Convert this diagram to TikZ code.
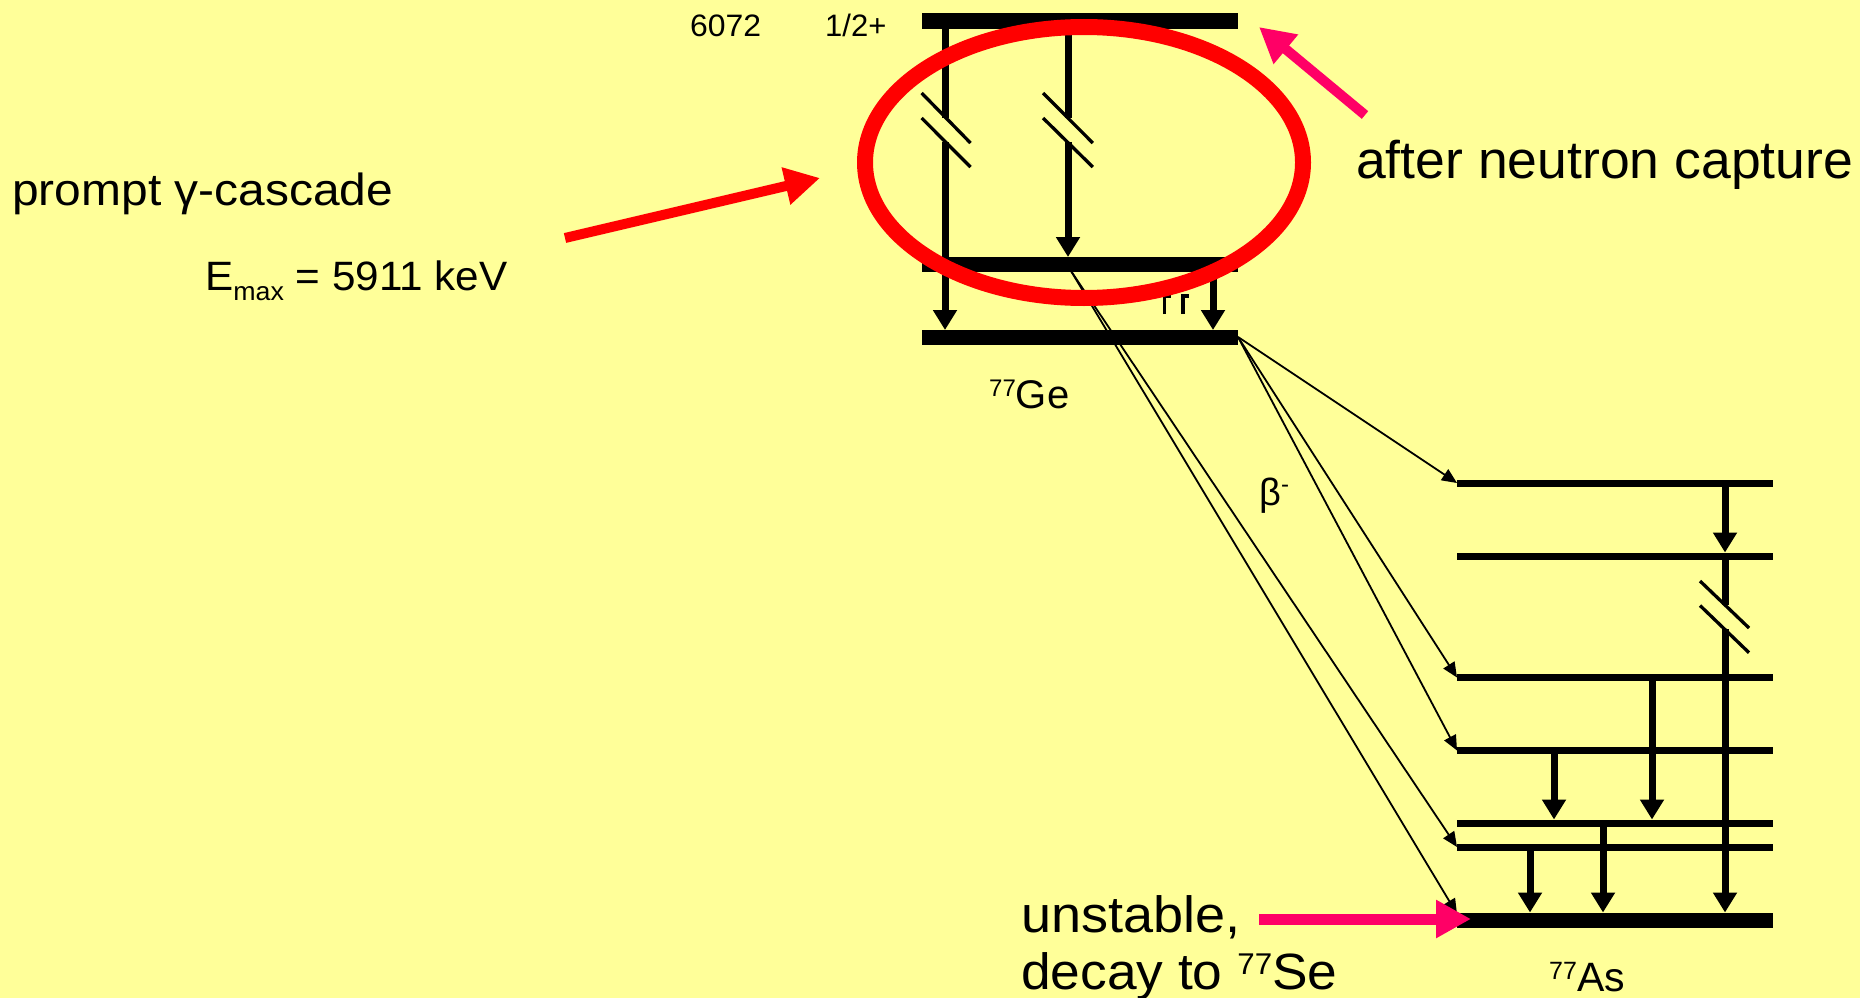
\documentclass[tikz,border=0pt]{standalone}
\usepackage{fontspec}
\setmainfont{Liberation Sans}
\usetikzlibrary{arrows.meta}
\definecolor{bgyellow}{HTML}{FFFF99}
\definecolor{pinkarrow}{HTML}{FF0066}
\definecolor{redmark}{HTML}{FF0000}
\newcommand{\fsz}[1]{\fontsize{#1}{#1}\selectfont}
\begin{document}
\begin{tikzpicture}[x=1pt,y=-1pt,
  gebar/.style={line width=15pt},
  asbar/.style={line width=7pt},
  asground/.style={line width=15pt},
  gam/.style={line width=7pt,-{Triangle[length=20pt,width=23pt]}},
  gamline/.style={line width=7pt},
  brk/.style={line width=3.3pt},
  betaarr/.style={line width=1.8pt,-{Triangle[length=15pt,width=13pt]}},
  bigarrow/.style={line width=10pt,-{Triangle[length=35pt,width=36pt]}},
  lbl/.style={inner sep=0pt,anchor=base west},
]
\useasboundingbox (0,0) rectangle (1860,998);
\fill[bgyellow] (0,0) rectangle (1860,998);

% ---- 77Ge levels
\coordinate (geTL) at (922,21);    \coordinate (geTR) at (1238,21);
\coordinate (geML) at (922,264.5); \coordinate (geMR) at (1238,264.5);
\coordinate (geBL) at (922,337.5); \coordinate (geBR) at (1238,337.5);
\draw[gebar,line width=16pt] (geTL) -- (geTR);
\draw[gebar] (geML) -- (geMR);
\draw[gebar] (geBL) -- (geBR);

% Ge gamma transitions
\coordinate (g1a) at (945,29);   \coordinate (g1b) at (945,117.5);
\coordinate (g1c) at (945,142);  \coordinate (g1d) at (945,330);
\draw[gamline] (g1a) -- (g1b);
\draw[gam] (g1c) -- (g1d);
\coordinate (k1a) at (921.6,93);  \coordinate (k1b) at (970.5,143);
\coordinate (k1c) at (921.6,118); \coordinate (k1d) at (970.5,167);
\draw[brk] (k1a) -- (k1b);
\draw[brk] (k1c) -- (k1d);

\coordinate (g2a) at (1068,29);   \coordinate (g2b) at (1068,117.5);
\coordinate (g2c) at (1068,142);  \coordinate (g2d) at (1068,257);
\draw[gamline] (g2a) -- (g2b);
\draw[gam] (g2c) -- (g2d);
\coordinate (k2a) at (1043,93);  \coordinate (k2b) at (1092.8,143);
\coordinate (k2c) at (1043,118); \coordinate (k2d) at (1092.8,167);
\draw[brk] (k2a) -- (k2b);
\draw[brk] (k2c) -- (k2d);

\coordinate (g3a) at (1213,272);  \coordinate (g3b) at (1213,330);
\draw[gam] (g3a) -- (g3b);

% partly hidden marks
\coordinate (h1a) at (1164.5,314); \coordinate (h1b) at (1164.5,296); \coordinate (h1c) at (1171,296);
\coordinate (h2a) at (1183,314);   \coordinate (h2b) at (1183,296);   \coordinate (h2c) at (1189,296);
\draw[line width=3.3pt] (h1a) -- (h1b) -- (h1c);
\draw[line width=3.3pt] (h2a) -- (h2b) -- (h2c);

% ---- 77As levels
\coordinate (as1L) at (1457,483);   \coordinate (as1R) at (1773,483);
\coordinate (as2L) at (1457,556);   \coordinate (as2R) at (1773,556);
\coordinate (as3L) at (1457,677.5); \coordinate (as3R) at (1773,677.5);
\coordinate (as4L) at (1457,750.5); \coordinate (as4R) at (1773,750.5);
\coordinate (as5L) at (1457,823);   \coordinate (as5R) at (1773,823);
\coordinate (as6L) at (1457,847);   \coordinate (as6R) at (1773,847);
\coordinate (as0L) at (1457,920);   \coordinate (as0R) at (1773,920);
\draw[asbar] (as1L) -- (as1R);
\draw[asbar] (as2L) -- (as2R);
\draw[asbar] (as3L) -- (as3R);
\draw[asbar] (as4L) -- (as4R);
\draw[asbar] (as5L) -- (as5R);
\draw[asbar] (as6L) -- (as6R);
\draw[asground] (as0L) -- (as0R);

% As gamma transitions
\coordinate (a1a) at (1725,486);  \coordinate (a1b) at (1725,552.5);
\draw[gam] (a1a) -- (a1b);
\coordinate (a2a) at (1725,556);  \coordinate (a2b) at (1725,605);
\coordinate (a2c) at (1725,629);  \coordinate (a2d) at (1725,912.5);
\draw[gamline] (a2a) -- (a2b);
\draw[gam] (a2c) -- (a2d);
\coordinate (k3a) at (1700,581);  \coordinate (k3b) at (1749,628);
\coordinate (k3c) at (1700,605.5);\coordinate (k3d) at (1749,652.7);
\draw[brk] (k3a) -- (k3b);
\draw[brk] (k3c) -- (k3d);

\coordinate (a3a) at (1652,681);  \coordinate (a3b) at (1652,819.5);
\draw[gam] (a3a) -- (a3b);
\coordinate (a4a) at (1554,754);  \coordinate (a4b) at (1554,819.5);
\draw[gam] (a4a) -- (a4b);
\coordinate (a5a) at (1603,826);  \coordinate (a5b) at (1603,912.5);
\draw[gam] (a5a) -- (a5b);
\coordinate (a6a) at (1530,850);  \coordinate (a6b) at (1530,912.5);
\draw[gam] (a6a) -- (a6b);

% ---- beta decays
\coordinate (bsrc1) at (1238,337);
\coordinate (bsrc2) at (1071,271);
\coordinate (as0T) at (1457,914);
\draw[betaarr] (bsrc1) -- (as1L);
\draw[betaarr] (bsrc1) -- (as3L);
\draw[betaarr] (bsrc1) -- (as4L);
\draw[betaarr] (bsrc2) -- (as6L);
\draw[betaarr] (bsrc2) -- (as0T);

% ---- texts
\node[lbl,font=\fsz{31}] (e6072) at (690,37) {\scalebox{1.03}[1]{6072}};
\node[lbl,font=\fsz{31}] (jpi) at (825,37) {1/2+};
\node[lbl,font=\fsz{40}] (ge) at (989,408) {\raisebox{12pt}{\fsz{24}77}Ge};
\node[lbl,font=\fsz{41}] (as) at (1549,991) {\raisebox{11.5pt}{\fsz{25}77}As};
\node[lbl,font=\fsz{38}] (beta) at (1259,505) {β\raisebox{13pt}{\fsz{24}-}};
\node[lbl,font=\fsz{45}] (prompt) at (12,205) {\scalebox{1.065}[1]{prompt γ-cascade}};
\node[lbl,font=\fsz{41}] (emax) at (205,290) {\scalebox{1.03}[1]{E\raisebox{-10pt}{\fsz{26}max} = 5911 keV}};
\node[lbl,font=\fsz{53}] (after) at (1356,178) {\scalebox{1.01}[1]{after neutron capture}};
\node[lbl,font=\fsz{51}] (unst) at (1021,932) {\scalebox{1.06}[1]{unstable,}};
\node[lbl,font=\fsz{51}] (decay) at (1021,989) {\scalebox{1.045}[1]{decay to \raisebox{15pt}{\fsz{30}77}Se}};

% ---- pointer arrows
\coordinate (rA) at (565,238);   \coordinate (rB) at (820,178);
\draw[bigarrow,redmark] (rA) -- (rB);
\coordinate (pA) at (1365,115);  \coordinate (pB) at (1259,27);
\draw[bigarrow,pinkarrow] (pA) -- (pB);
\coordinate (qA) at (1259,919);  \coordinate (qB) at (1471,919);
\draw[bigarrow,pinkarrow,line width=11pt] (qA) -- (qB);

% ---- red ellipse
\coordinate (ellc) at (1084,162.5);
\draw[redmark,line width=16pt] (ellc) ellipse [x radius=219pt, y radius=135.5pt];
\end{tikzpicture}
\end{document}
